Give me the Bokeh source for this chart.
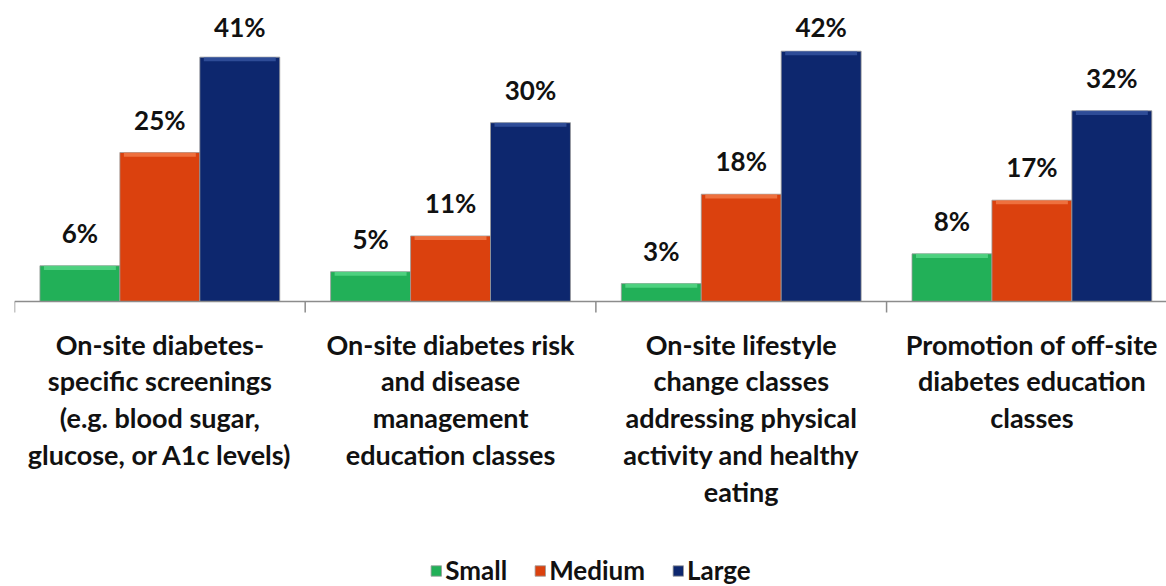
from bokeh.plotting import figure
from bokeh.models import ColumnDataSource, Legend, LegendItem, Range1d, Span
from bokeh.core.properties import value
from bokeh.embed import file_html
from bokeh.resources import INLINE

categories = [
    "On-site diabetes-\nspecific screenings\n(e.g. blood sugar,\nglucose, or A1c levels)",
    "On-site diabetes risk\nand disease\nmanagement\neducation classes",
    "On-site lifestyle\nchange classes\naddressing physical\nactivity and healthy\neating",
    "Promotion of off-site\ndiabetes education\nclasses",
]
series = ["Small", "Medium", "Large"]
small = [6, 5, 3, 8]
medium = [25, 11, 18, 17]
large = [41, 30, 42, 32]
colors = ["#22B058", "#DB410E", "#0D276E"]
highlights = ["#5CDC8C", "#F4804F", "#3A5AA6"]

FONT = "Lato"
TXT = "#111111"
AXIS_COL = "#8c8c8c"
LABEL_CAP = 40.6   # labels of the tallest bars are kept inside the chart area
PX_PER_UNIT = 5.96
TICK = 11 / PX_PER_UNIT

p = figure(frame_width=1152, frame_height=586, output_backend="svg", toolbar_location=None,
           x_range=Range1d(0.5, 4.463), y_range=Range1d(-285 / PX_PER_UNIT, 301 / PX_PER_UNIT),
           x_axis_location=None, y_axis_location=None,
           min_border_left=14, min_border_right=0, min_border_top=0, min_border_bottom=0)
p.outline_line_color = None
p.grid.visible = False
p.background_fill_color = "white"
p.border_fill_color = "white"

xs = [1, 2, 3, 4]
w = 0.275
offsets = [-w, 0, w]
renderers = []
for vals, off, col, hi, name in zip([small, medium, large], offsets, colors, highlights, series):
    src = ColumnDataSource(dict(x=[x + off for x in xs], top=vals,
                                hib=[v - 0.7 for v in vals],
                                ly=[min(v, LABEL_CAP) for v in vals],
                                lab=[f"{v}%" for v in vals]))
    r = p.vbar(x="x", top="top", bottom=0, width=w, source=src, fill_color=col,
               line_color="#9a9a9a", line_width=0.8)
    renderers.append(r)
    p.vbar(x="x", top="top", bottom="hib", width=w * 0.9, source=src,
           fill_color=hi, fill_alpha=0.75, line_color=None)
    p.text(x="x", y="ly", text="lab", source=src, y_offset=-33,
           text_align="center", text_baseline="alphabetic",
           text_font=value(FONT), text_font_style="bold",
           text_font_size="26px", text_color=TXT)

# category axis: baseline, group-boundary ticks and multi-line category labels
p.add_layout(Span(location=0, dimension="width", line_color=AXIS_COL, line_width=1.5))
bounds = [x - 0.5 for x in xs]
p.segment(x0=bounds, y0=[0] * len(bounds), x1=bounds, y1=[-TICK] * len(bounds),
          line_color=AXIS_COL, line_width=1.5)
cat_src = ColumnDataSource(dict(x=xs, y=[0] * len(xs), text=categories))
p.text(x="x", y="y", text="text", source=cat_src, y_offset=26,
       text_align="center", text_baseline="top",
       text_font=value(FONT), text_font_style="bold",
       text_font_size="27px", text_color=TXT, text_line_height=1.12)

legend = Legend(items=[LegendItem(label=s, renderers=[r]) for s, r in zip(series, renderers)],
                orientation="horizontal", location="bottom_center",
                label_text_font=FONT, label_text_font_style="bold",
                label_text_font_size="26px", label_text_color=TXT,
                glyph_width=13, glyph_height=13, label_standoff=3, spacing=26,
                border_line_color=None, background_fill_alpha=0,
                padding=0, margin=0)
p.add_layout(legend)

open("out.html", "w").write(file_html(p, INLINE))
